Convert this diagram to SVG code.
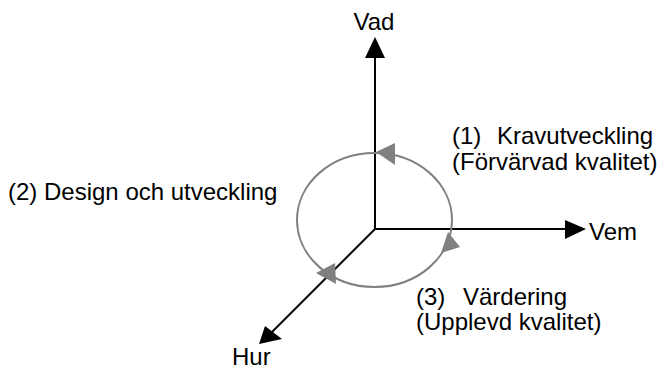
<svg xmlns="http://www.w3.org/2000/svg" width="659" height="369" viewBox="0 0 659 369">
<style>
text{font-family:"Liberation Sans",Arial,sans-serif;font-size:24px;fill:#000}
.ax{stroke:#000;stroke-width:2;fill:none}
.ah{fill:#000}
.cyc{stroke:#808080;stroke-width:2;fill:none}
.ch{fill:#808080}
</style>
<rect width="659" height="369" fill="#fff"/>
<g id="connectors">
<line class="ax" x1="375" y1="229" x2="375" y2="56"/>
<polygon class="ah" points="375,37 365,58 385,58"/>
<line class="ax" x1="375" y1="229" x2="567" y2="229"/>
<polygon class="ah" points="586,229 565,220 565,239"/>
<line class="ax" x1="375" y1="229" x2="272" y2="332"/>
<polygon class="ah" points="259,344 265,326 282,339"/>
</g>
<g id="cycle">
<ellipse class="cyc" cx="374.5" cy="220" rx="77.5" ry="67"/>
<polygon class="ch" points="376,152 395,143 395,165"/>
<polygon class="ch" points="448,232 460,247 441,253"/>
<polygon class="ch" points="316,273 335,263 336,284"/>
</g>
<g id="vad"><text x="374" y="30" text-anchor="middle">Vad</text></g>
<g id="vem"><text x="589" y="240">Vem</text></g>
<g id="hur"><text x="232" y="365">Hur</text></g>
<g id="step1"><text x="452" y="144">(1)<tspan x="497">Kravutveckling</tspan></text><text x="452" y="170">(Förvärvad kvalitet)</text></g>
<g id="step2"><text x="8" y="200">(2) Design och utveckling</text></g>
<g id="step3"><text x="416" y="305">(3)<tspan x="463">Värdering</tspan></text><text x="416" y="330">(Upplevd kvalitet)</text></g>
</svg>
